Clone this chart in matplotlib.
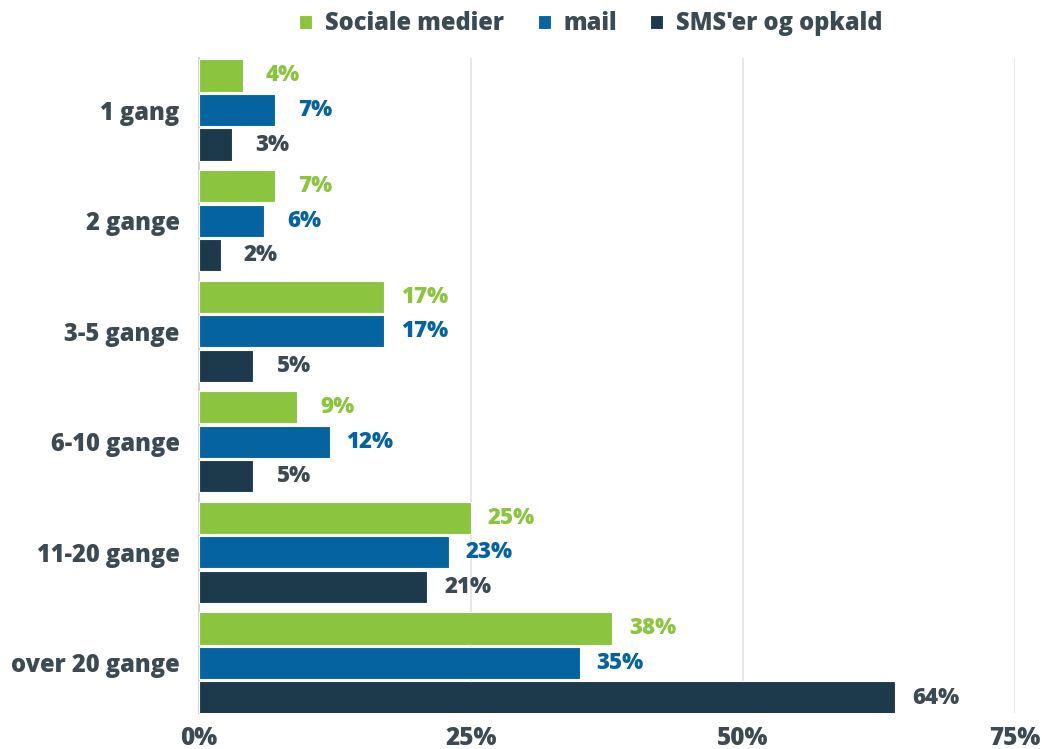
import matplotlib
matplotlib.use("Agg")
import matplotlib.pyplot as plt
import numpy as np

categories = ["1 gang", "2 gange", "3-5 gange", "6-10 gange", "11-20 gange", "over 20 gange"]
series_names = ["Sociale medier", "mail", "SMS'er og opkald"]
sociale = [4, 7, 17, 9, 25, 38]
mail = [7, 6, 17, 12, 23, 35]
sms = [3, 2, 5, 5, 21, 64]
xticks = [0, 25, 50, 75]
xtick_labels = ["0%", "25%", "50%", "75%"]

colors = ["#8BC53F", "#05649F", "#1C3A4C"]
text_color = "#3C4A54"
W = "heavy"

plt.rcParams['font.family'] = ['Open Sans', 'DejaVu Sans']
plt.rcParams['font.weight'] = W

fig = plt.figure(figsize=(10.42, 7.49), dpi=100)
ax = fig.add_axes([199/1042, 1 - 713/749, (1015-199)/1042, (713-58)/749])

y = np.arange(len(categories))
pitch = 0.312
height = 0.29
all_series = [sociale, mail, sms]
handles = []
for i, (vals, name, c) in enumerate(zip(all_series, series_names, colors)):
    pos = y + (i - 1) * pitch
    b = ax.barh(pos, vals, height=height, color=c, edgecolor="white", linewidth=0.8,
                label=name, zorder=3)
    handles.append(b)
    for p, v in zip(pos, vals):
        ax.annotate(f"{v}%", xy=(v, p), xytext=(29, 0), textcoords="offset points",
                    ha="center", va="center", color=(c if i < 2 else text_color),
                    fontsize=16, fontweight=W, zorder=4)

ax.set_xlim(0, 75)
ax.set_ylim(5 + 50/110.6, -52/110.6)
ax.set_yticks(y)
ax.set_yticklabels(categories, fontsize=17)
ax.set_xticks(xticks)
ax.set_xticklabels(xtick_labels, fontsize=17.5)
ax.tick_params(axis="both", length=0, labelcolor=text_color)
ax.tick_params(axis="y", pad=14)
ax.tick_params(axis="x", pad=9.5)
for lbl in ax.get_xticklabels() + ax.get_yticklabels():
    lbl.set_fontweight(W)

ax.grid(axis="x", color="#E3E3E3", linewidth=1.2, zorder=0)
for s in ["top", "right", "bottom"]:
    ax.spines[s].set_visible(False)
ax.spines["left"].set_color("#CCCCCC")
ax.spines["left"].set_linewidth(1.2)

leg = fig.legend(handles=handles, labels=series_names, loc="center",
                 bbox_to_anchor=(591/1042, 1 - 24/749), ncol=3, frameon=False,
                 fontsize=17, handlelength=0.55, handleheight=0.55, handletextpad=0.55,
                 columnspacing=1.4, labelcolor=text_color)
for t in leg.get_texts():
    t.set_fontweight(W)

fig.savefig("out.png", dpi=100)
